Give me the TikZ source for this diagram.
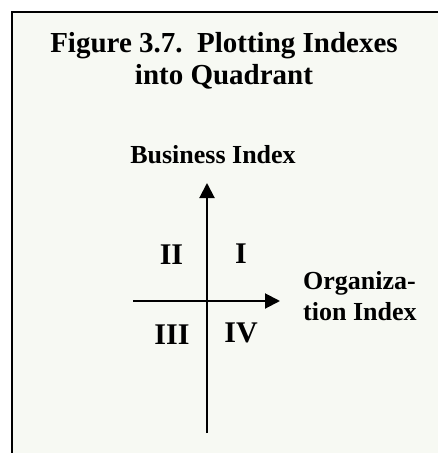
\documentclass[tikz,border=0pt]{standalone}
\usepackage{fontspec}
\setmainfont{Liberation Serif}
\usetikzlibrary{arrows.meta,positioning}
\definecolor{panelBg}{RGB}{247,249,243}

\begin{document}
\begin{tikzpicture}[x=1pt, y=-1pt, line join=miter,
    lbl/.style={font=\fontsize{26}{31}\selectfont\bfseries, inner sep=0pt},
    headline/.style={font=\fontsize{29}{32}\selectfont\bfseries, inner sep=0pt, align=center},
    quad/.style={font=\fontsize{30}{36}\selectfont\bfseries, inner sep=0pt, anchor=base},
    axis/.style={line width=2pt, -{Triangle[length=15pt, width=15pt]}}]
        \useasboundingbox (0,0) rectangle (438,453);
        \fill[panelBg] (12,12) rectangle (438,453);
        \draw[line width=2pt] (12,453) -- (12,12) -- (438,12);
        % titles
        \node[headline, anchor=north] (title) at (224,32) {Figure 3.7.\ \ Plotting Indexes\\into Quadrant};
        \node[lbl, anchor=base] (busIdx) at (213,163) {Business Index};
        \node[lbl, align=left, anchor=west] (orgIdx) at (303,296) {Organiza-\\tion Index};
        % axes
        \coordinate (yBot) at (207,433);
        \coordinate (yTop) at (207,183);
        \coordinate (xLeft) at (133,301);
        \coordinate (xRight) at (280,301);
        \draw[axis] (yBot) -- (yTop);
        \draw[axis] (xLeft) -- (xRight);
        % quadrants
        \node[quad] (quadII) at (171.5,264) {II};
        \node[quad] (quadI) at (241,263) {I};
        \node[quad] (quadIII) at (172,344) {III};
        \node[quad] (quadIV) at (241,342) {IV};
    \end{tikzpicture}
\end{document}
